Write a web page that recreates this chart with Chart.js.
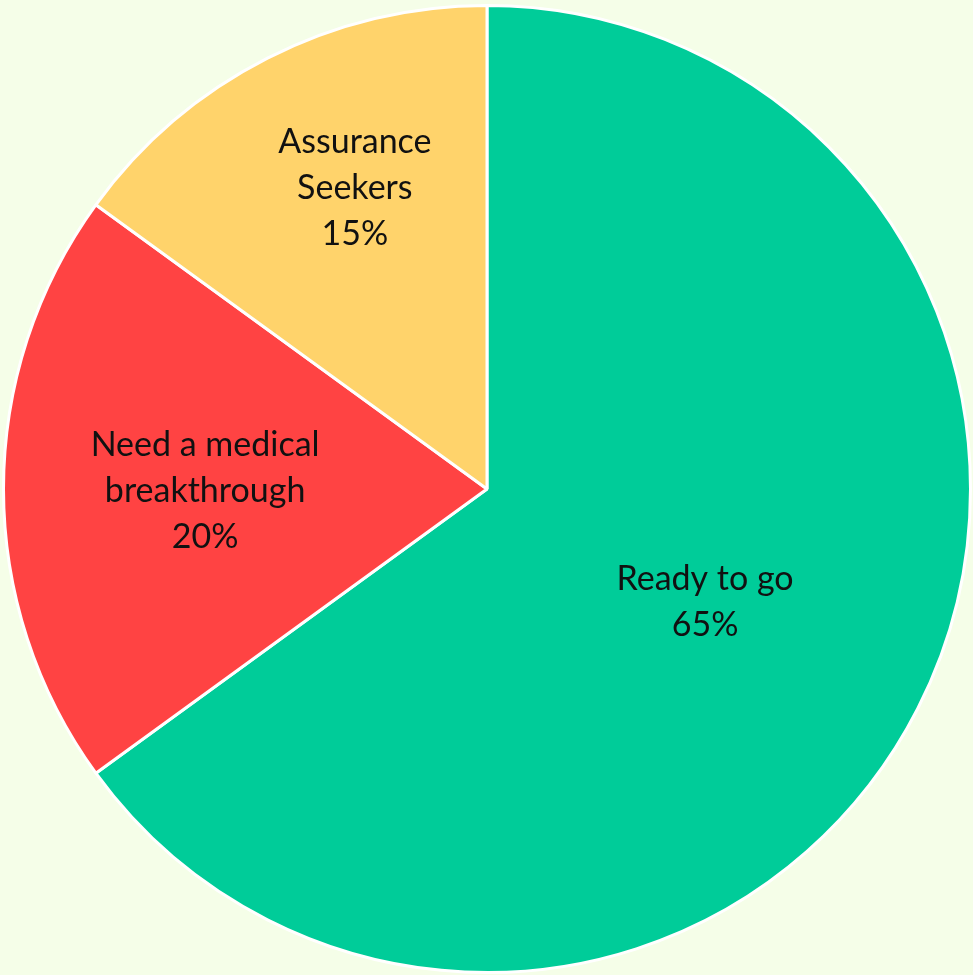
<!DOCTYPE html>
<html>
<head>
<meta charset="utf-8">
<script src="https://cdn.jsdelivr.net/npm/chart.js@4.4.0/dist/chart.umd.min.js"></script>
<style>
  html, body { margin: 0; padding: 0; background: #F5FEE8; }
  #wrap { width: 973px; height: 975px; }
</style>
</head>
<body>
<div id="wrap"><canvas id="c"></canvas></div>
<script>
// segments, clockwise from 12 o'clock
const labels = ['Ready to go', 'Need a medical breakthrough', 'Assurance Seekers']
const labelLines = [['Ready to go'], ['Need a medical', 'breakthrough'], ['Assurance', 'Seekers']]
const values = [65, 20, 15]
const colors = ['#00CC99', '#FF4343', '#FFD36B']

// where each label sits (fraction of radius, small angle nudge in degrees), like Excel's best fit
const labelRadius = [0.508, 0.583, 0.68]
const labelNudge = [0.4, -0.4, 3.3]

const sliceLabels = {
  id: 'sliceLabels',
  afterDatasetsDraw(chart) {
    const ctx = chart.ctx
    const meta = chart.getDatasetMeta(0)
    const total = values.reduce((a, b) => a + b, 0)
    ctx.save()
    ctx.fillStyle = '#111'
    ctx.font = '34px Lato'
    ctx.textAlign = 'center'
    ctx.textBaseline = 'middle'
    const lineH = 46
    meta.data.forEach((arc, i) => {
      const { x, y, startAngle, endAngle, outerRadius } = arc.getProps(['x', 'y', 'startAngle', 'endAngle', 'outerRadius'], true)
      const mid = (startAngle + endAngle) / 2 + labelNudge[i] * Math.PI / 180
      const r = outerRadius * labelRadius[i]
      const cx = x + Math.cos(mid) * r
      const cy = y + Math.sin(mid) * r
      const lines = [...labelLines[i], Math.round(values[i] / total * 100) + '%']
      const top = cy - (lines.length - 1) * lineH / 2
      lines.forEach((t, k) => ctx.fillText(t, cx, top + k * lineH))
    })
    ctx.restore()
  },
}

new Chart(document.getElementById('c'), {
  type: 'pie',
  data: {
    labels: labels,
    datasets: [
      {
        data: values,
        backgroundColor: colors,
        borderColor: '#ffffff',
        borderWidth: 3,
      },
    ],
  },
  options: {
    responsive: true,
    maintainAspectRatio: false,
    animation: false,
    layout: { padding: { left: 2, right: 1, top: 3, bottom: 0 } },
    plugins: {
      legend: { display: false },
      tooltip: { enabled: false },
    },
  },
  plugins: [sliceLabels],
})
</script>
</body>
</html>
